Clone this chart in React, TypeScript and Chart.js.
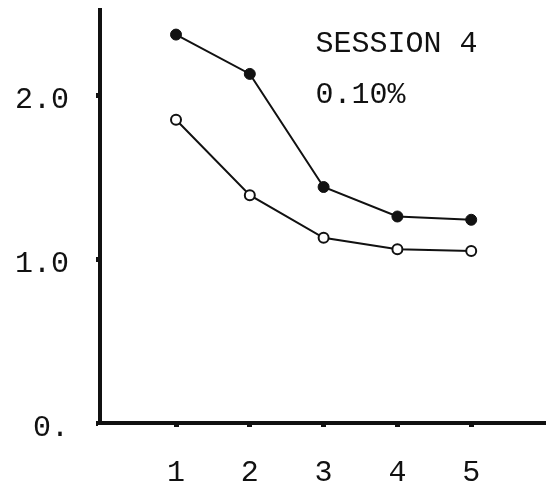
import React, { useEffect, useRef } from "react";
import { Chart, registerables } from "chart.js";

Chart.register(...registerables);

const trials = [1, 2, 3, 4, 5];
const filledSeries = [2.37, 2.13, 1.44, 1.26, 1.24];
const openSeries = [1.85, 1.39, 1.13, 1.06, 1.05];
const yTickValues = [0, 1, 2];
const yTickLabels = ["0.", "1.0", "2.0"];
const xTickLabels = ["1", "2", "3", "4", "5"];
const annotationLines = ["SESSION 4", "0.10%"];
const annotationPos = { x: 2.89, y: [2.31, 2.0] };

const FONT = "'Liberation Mono', 'Courier New', monospace";

export default function App() {
  const ref = useRef<HTMLCanvasElement | null>(null);

  useEffect(() => {
    document.body.style.margin = "0";
    const canvas = ref.current;
    if (!canvas) return;

    const annotationPlugin = {
      id: "annot",
      afterDraw(chart: any) {
        const { ctx, scales } = chart;
        ctx.save();
        ctx.fillStyle = "#111";
        ctx.font = `30px ${FONT}`;
        ctx.textAlign = "left";
        ctx.textBaseline = "middle";
        annotationLines.forEach((t, i) => {
          ctx.fillText(t, scales.x.getPixelForValue(annotationPos.x), scales.y.getPixelForValue(annotationPos.y[i]));
        });
        ctx.restore();
      },
    };

    const chart = new Chart(canvas, {
      type: "line",
      data: {
        datasets: [
          {
            data: trials.map((t, i) => ({ x: t, y: filledSeries[i] })),
            borderColor: "#111",
            borderWidth: 2,
            backgroundColor: "#111",
            pointBackgroundColor: "#111",
            pointBorderColor: "#111",
            pointRadius: 5.5,
            pointBorderWidth: 1,
            tension: 0,
          },
          {
            data: trials.map((t, i) => ({ x: t, y: openSeries[i] })),
            borderColor: "#111",
            borderWidth: 2,
            backgroundColor: "#fff",
            pointBackgroundColor: "#fff",
            pointBorderColor: "#111",
            pointRadius: 5,
            pointBorderWidth: 2,
            tension: 0,
          },
        ],
      },
      options: {
        animation: false,
        responsive: false,
        devicePixelRatio: 1,
        layout: { padding: { top: 10, right: 9, left: 0, bottom: 0 } },
        plugins: { legend: { display: false }, tooltip: { enabled: false } },
        scales: {
          x: {
            type: "linear",
            min: -0.03,
            max: 6,
            afterFit: (s: any) => {
              s.height = 70;
              s.paddingLeft = 0;
              s.paddingRight = 0;
            },
            afterBuildTicks: (s: any) => {
              s.ticks = trials.map((v) => ({ value: v }));
            },
            border: { display: true, color: "#111", width: 4 },
            grid: { drawOnChartArea: false, drawTicks: true, tickLength: 4, tickWidth: 5, color: "#111" },
            ticks: {
              autoSkip: false,
              maxRotation: 0,
              padding: 28,
              color: "#111",
              font: { family: FONT, size: 30 },
              callback: (v: any) => xTickLabels[trials.indexOf(Number(v))] ?? "",
            },
          },
          y: {
            type: "linear",
            min: 0,
            max: 2.52,
            afterFit: (s: any) => {
              s.width = 100;
              s.paddingTop = 0;
              s.paddingBottom = 0;
            },
            afterBuildTicks: (s: any) => {
              s.ticks = yTickValues.map((v) => ({ value: v }));
            },
            border: { display: true, color: "#111", width: 4 },
            grid: { drawOnChartArea: false, drawTicks: true, tickLength: 4, tickWidth: 5, color: "#111" },
            ticks: {
              autoSkip: false,
              padding: 27,
              labelOffset: 5,
              color: "#111",
              font: { family: FONT, size: 30 },
              callback: (v: any) => yTickLabels[yTickValues.indexOf(Number(v))] ?? "",
            },
          },
        },
      },
      plugins: [annotationPlugin],
    });

    return () => chart.destroy();
  }, []);

  return (
    <div style={{ position: "fixed", left: 0, top: 0, width: 554, height: 493, background: "#fff" }}>
      <canvas ref={ref} width={554} height={493} style={{ width: 554, height: 493 }} />
    </div>
  );
}
